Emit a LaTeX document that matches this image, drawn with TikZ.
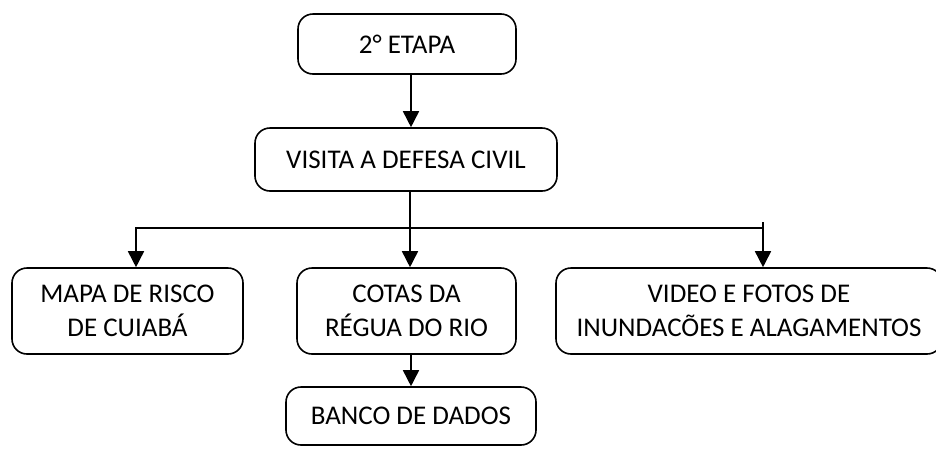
\documentclass[tikz,border=0pt]{standalone}
\usepackage{fontspec}
\setmainfont{Carlito}
\usepackage{tikz}
\usetikzlibrary{arrows.meta,positioning}

\begin{document}
\begin{tikzpicture}[x=1pt,y=-1pt,
    etapabox/.style={draw, line width=1.6pt, rounded corners=15pt, align=center,
        inner sep=0pt, font=\fontsize{27}{34}\selectfont},
    arr/.style={line width=1.6pt, -{Triangle[length=16pt,width=16pt]}}]
    \useasboundingbox (0,0) rectangle (936,448);

    % Boxes
    \node[etapabox, minimum width=218, minimum height=60] (etapa) at (407,44) {2° ETAPA};
    \node[etapabox, minimum width=302, minimum height=63] (visita) at (406,159.5) {VISITA A DEFESA CIVIL};
    \node[etapabox, minimum width=231, minimum height=86] (mapa) at (127.5,311) {MAPA DE RISCO\\DE CUIABÁ};
    \node[etapabox, minimum width=219, minimum height=86] (cotas) at (406.5,311) {COTAS DA\\RÉGUA DO RIO};
    \node[etapabox, minimum width=386, minimum height=86] (video) at (749,311) {VIDEO E FOTOS DE\\INUNDACÕES E ALAGAMENTOS};
    \node[etapabox, minimum width=250, minimum height=58] (banco) at (411,416) {BANCO DE DADOS};

    % Connectors
    \coordinate (split) at (410,228);
    \coordinate (tick) at (763,222);
    \draw[arr] ([xshift=4]etapa.south) -- ([xshift=4]etapa.south |- visita.north);
    \draw[arr] ([xshift=4]visita.south) -- ([xshift=4]visita.south |- cotas.north);
    \draw[arr] (split) -| ([xshift=8.5]mapa.north);
    \draw[line width=1.6pt] (split) -- (tick |- split);
    \draw[arr] (tick) -- (tick |- video.north);
    \draw[arr] ([xshift=4.5]cotas.south) -- (banco.north);
\end{tikzpicture}
\end{document}
